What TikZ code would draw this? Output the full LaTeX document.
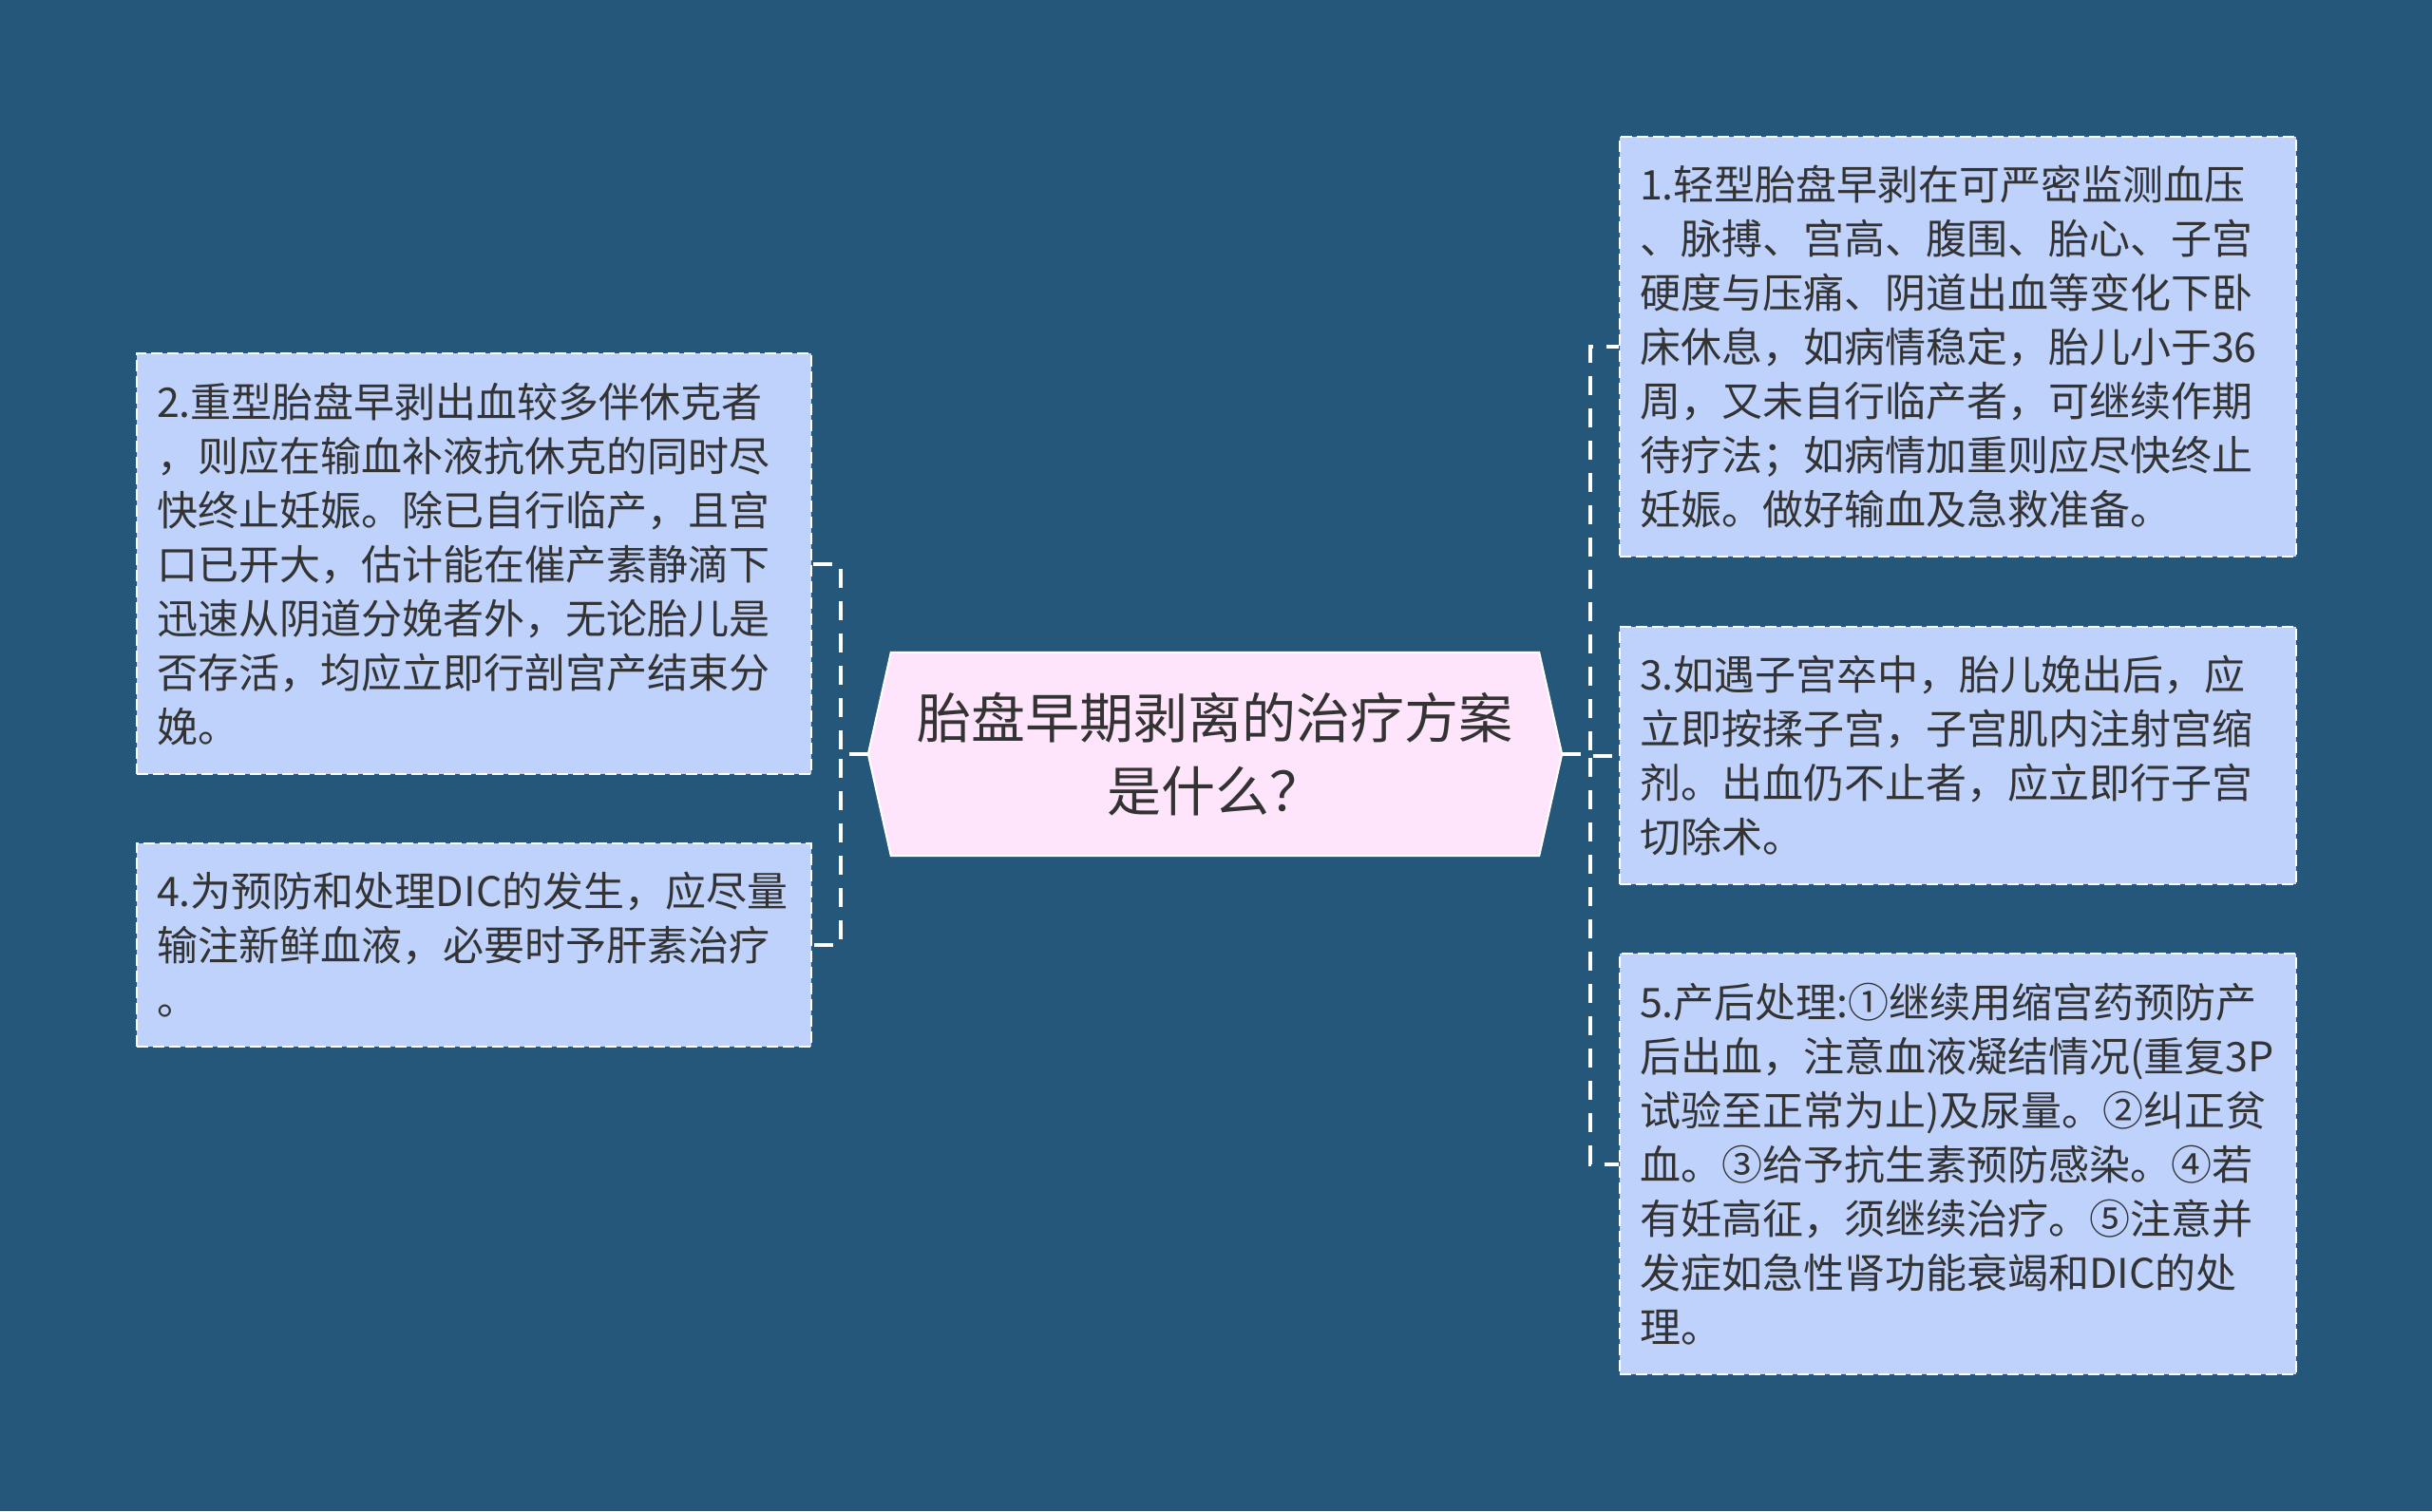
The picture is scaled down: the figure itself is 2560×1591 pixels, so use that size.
\documentclass[tikz,border=0pt]{standalone}
\usepackage{fontspec}
\setmainfont{Noto Sans CJK SC}
\usetikzlibrary{backgrounds,calc}
\definecolor{bgc}{HTML}{245779}
\definecolor{boxfill}{HTML}{BFD2FC}
\definecolor{rootfill}{HTML}{FFE5FB}
\definecolor{txt}{HTML}{333333}
\tikzset{
  leaf/.style={draw=white, line width=2pt, dash pattern=on 12pt off 5pt,
    fill=boxfill, text=txt, font=\fontsize{43}{57}\selectfont,
    align=left, inner xsep=21pt, inner ysep=0pt},
  leftleaf/.style={leaf, text width=668pt},
  rightleaf/.style={leaf, text width=670pt},
  rootnode/.style={text=txt, font=\fontsize{57}{77}\selectfont, align=center,
    inner sep=0pt, minimum width=730pt, minimum height=214pt},
  conn/.style={draw=white, line width=4pt, dash pattern=on 20pt off 14pt},
}
\begin{document}
\begin{tikzpicture}[x=1pt,y=-1pt]
\begin{scope}[on background layer]
  \fill[bgc] (0,0) rectangle (2560,1591);
\end{scope}
\useasboundingbox (0,0) rectangle (2560,1591);

% root
\node[rootnode] (root) at (1279,794) {胎盘早期剥离的治疗方案\\是什么？};
\begin{scope}[on background layer]
  \path[fill=rootfill, draw=white, line width=2pt]
    (root.west) -- ($(root.north west)+(24,0)$) -- ($(root.north east)+(-24,0)$)
    -- (root.east) -- ($(root.south east)+(-24,0)$) -- ($(root.south west)+(24,0)$) -- cycle;
\end{scope}

% left leaves
\node[leftleaf, minimum height=443pt] (b2) at (499,593.5) {2.重型胎盘早剥出血较多伴休克者\\，则应在输血补液抗休克的同时尽\\快终止妊娠。除已自行临产，且宫\\口已开大，估计能在催产素静滴下\\迅速从阴道分娩者外，无论胎儿是\\否存活，均应立即行剖宫产结束分\\娩。};
\node[leftleaf, minimum height=214pt] (b4) at (499,995) {4.为预防和处理DIC的发生，应尽量\\输注新鲜血液，必要时予肝素治疗\\。};

% right leaves
\node[rightleaf, minimum height=442pt] (b1) at (2061,365) {1.轻型胎盘早剥在可严密监测血压\\、脉搏、宫高、腹围、胎心、子宫\\硬度与压痛、阴道出血等变化下卧\\床休息，如病情稳定，胎儿小于36\\周，又未自行临产者，可继续作期\\待疗法；如病情加重则应尽快终止\\妊娠。做好输血及急救准备。};
\node[rightleaf, minimum height=271pt] (b3) at (2061,795.5) {3.如遇子宫卒中，胎儿娩出后，应\\立即按揉子宫，子宫肌内注射宫缩\\剂。出血仍不止者，应立即行子宫\\切除术。};
\node[rightleaf, minimum height=443pt] (b5) at (2061,1225.5) {5.产后处理:①继续用缩宫药预防产\\后出血，注意血液凝结情况(重复3P\\试验至正常为止)及尿量。②纠正贫\\血。③给予抗生素预防感染。④若\\有妊高征，须继续治疗。⑤注意并\\发症如急性肾功能衰竭和DIC的处\\理。};

% connectors
\draw[conn] (root.east) -- ++(30,0) |- (b1.west);
\draw[conn] (root.east) -- ++(30,0) |- (b3.west);
\draw[conn] (root.east) -- ++(30,0) |- (b5.west);
\draw[conn] (root.west) -- ++(-29,0) |- (b2.east);
\draw[conn] (root.west) -- ++(-29,0) |- (b4.east);
\end{tikzpicture}
\end{document}
